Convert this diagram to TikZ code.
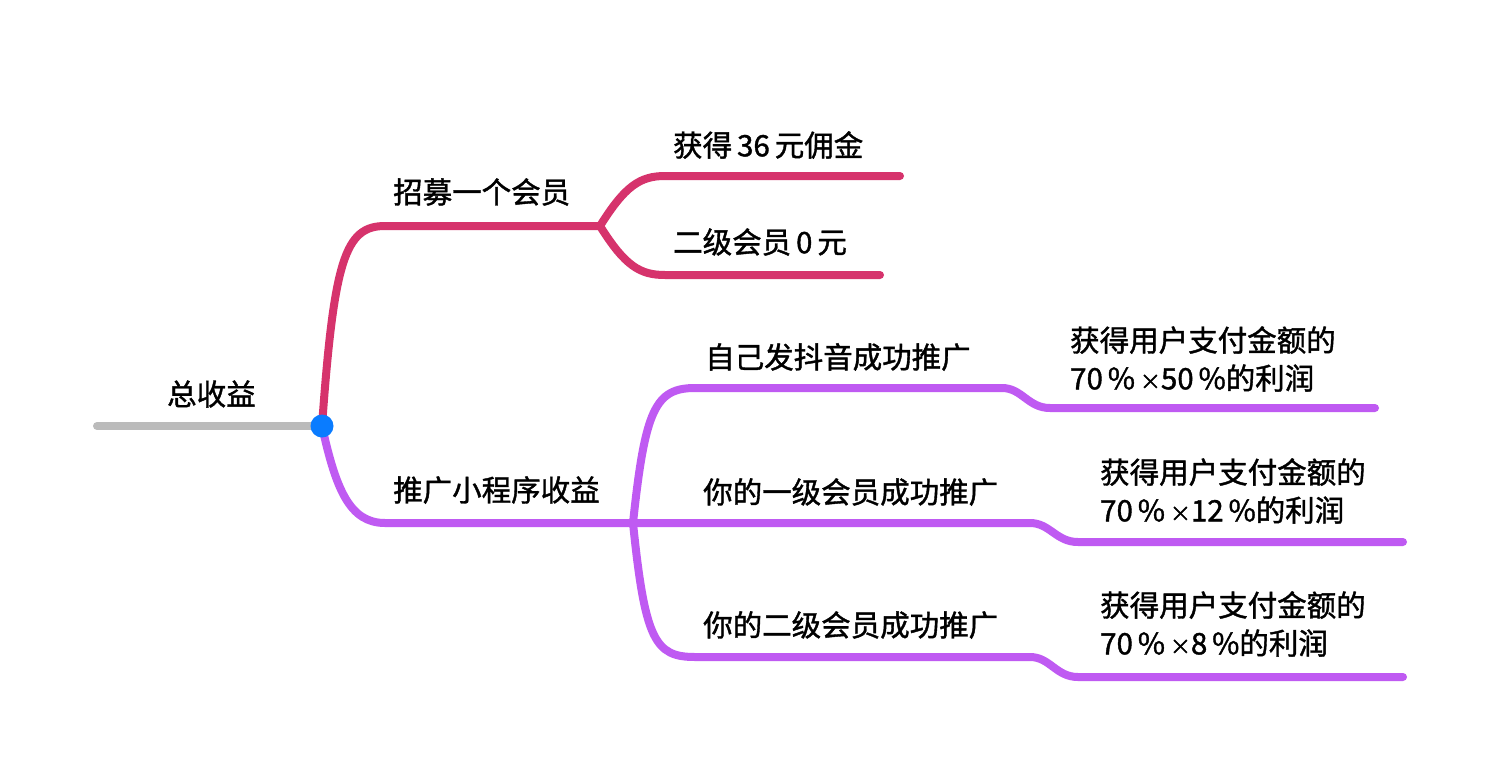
\documentclass[tikz,border=0pt]{standalone}
\usepackage{fontspec}
\newfontfamily\cjk[FakeBold=1.3]{Noto Sans CJK SC}
\definecolor{pinkc}{RGB}{214,51,108}
\definecolor{purpc}{RGB}{191,90,242}
\definecolor{grayc}{RGB}{187,187,187}
\definecolor{bluec}{RGB}{10,124,255}
\newcommand{\tms}{{\fontsize{21}{21}\selectfont ×}}
\tikzset{
  lbl/.style={anchor=west,inner sep=0pt,font=\cjk\fontsize{29.5}{38}\selectfont,align=left},
  br/.style={line width=8pt,line cap=round},
  pk/.style={br,draw=pinkc},
  pp/.style={br,draw=purpc},
}
\begin{document}
\begin{tikzpicture}[x=1pt,y=-1pt]
\useasboundingbox[fill=white] (0,0) rectangle (1500,774);
% coordinates
\coordinate (rootL) at (97,426);
\coordinate (root) at (322,426);
\coordinate (p1a) at (385,226);
\coordinate (p1) at (600,226);
\coordinate (p11a) at (665,176);
\coordinate (p11) at (900,176);
\coordinate (p12a) at (665,275);
\coordinate (p12) at (880,275);
\coordinate (q1a) at (385,523);
\coordinate (q1) at (633,523);
\coordinate (q11a) at (695,388);
\coordinate (q11b) at (1002,388);
\coordinate (q11c) at (1050,408);
\coordinate (q11) at (1375,408);
\coordinate (q12b) at (1030,523);
\coordinate (q12c) at (1078,542);
\coordinate (q12) at (1403,542);
\coordinate (q13a) at (695,657);
\coordinate (q13b) at (1030,657);
\coordinate (q13c) at (1078,677);
\coordinate (q13) at (1403,677);
% lines
\draw[br,draw=grayc] (rootL) -- (root);
\draw[pk] (root) .. controls (334,260) and (345,226) .. (p1a) -- (p1);
\draw[pk] (p1) .. controls (625,186) and (640,176) .. (p11a) -- (p11);
\draw[pk] (p1) .. controls (625,266) and (640,275) .. (p12a) -- (p12);
\draw[pp] (root) .. controls (336,490) and (350,523) .. (q1a) -- (q1);
\draw[pp] (q1) .. controls (645,410) and (655,388) .. (q11a) -- (q11b) .. controls (1022,388) and (1028,408) .. (q11c) -- (q11);
\draw[pp] (q1) -- (q12b) .. controls (1050,523) and (1056,542) .. (q12c) -- (q12);
\draw[pp] (q1) .. controls (645,640) and (655,657) .. (q13a) -- (q13b) .. controls (1050,657) and (1056,677) .. (q13c) -- (q13);
\fill[bluec] (root) circle (11.5);
% labels
\node[lbl] (t0) at (167,394) {总收益};
\node[lbl] (t1) at (393,192) {招募一个会员};
\node[lbl] (t11) at (673,145) {获得\,36\,元佣金};
\node[lbl] (t12) at (673,242) {二级会员\,0\,元};
\node[lbl] (t2) at (393,490) {推广小程序收益};
\node[lbl] (t21) at (705,357) {自己发抖音成功推广};
\node[lbl] (t22) at (703,492) {你的一级会员成功推广};
\node[lbl] (t23) at (703,625) {你的二级会员成功推广};
\node[lbl] (t211) at (1070,359) {获得用户支付金额的\\70\,\%\,\tms50\,\%的利润};
\node[lbl] (t221) at (1100,491) {获得用户支付金额的\\70\,\%\,\tms12\,\%的利润};
\node[lbl] (t231) at (1100,624) {获得用户支付金额的\\70\,\%\,\tms8\,\%的利润};
\end{tikzpicture}
\end{document}
